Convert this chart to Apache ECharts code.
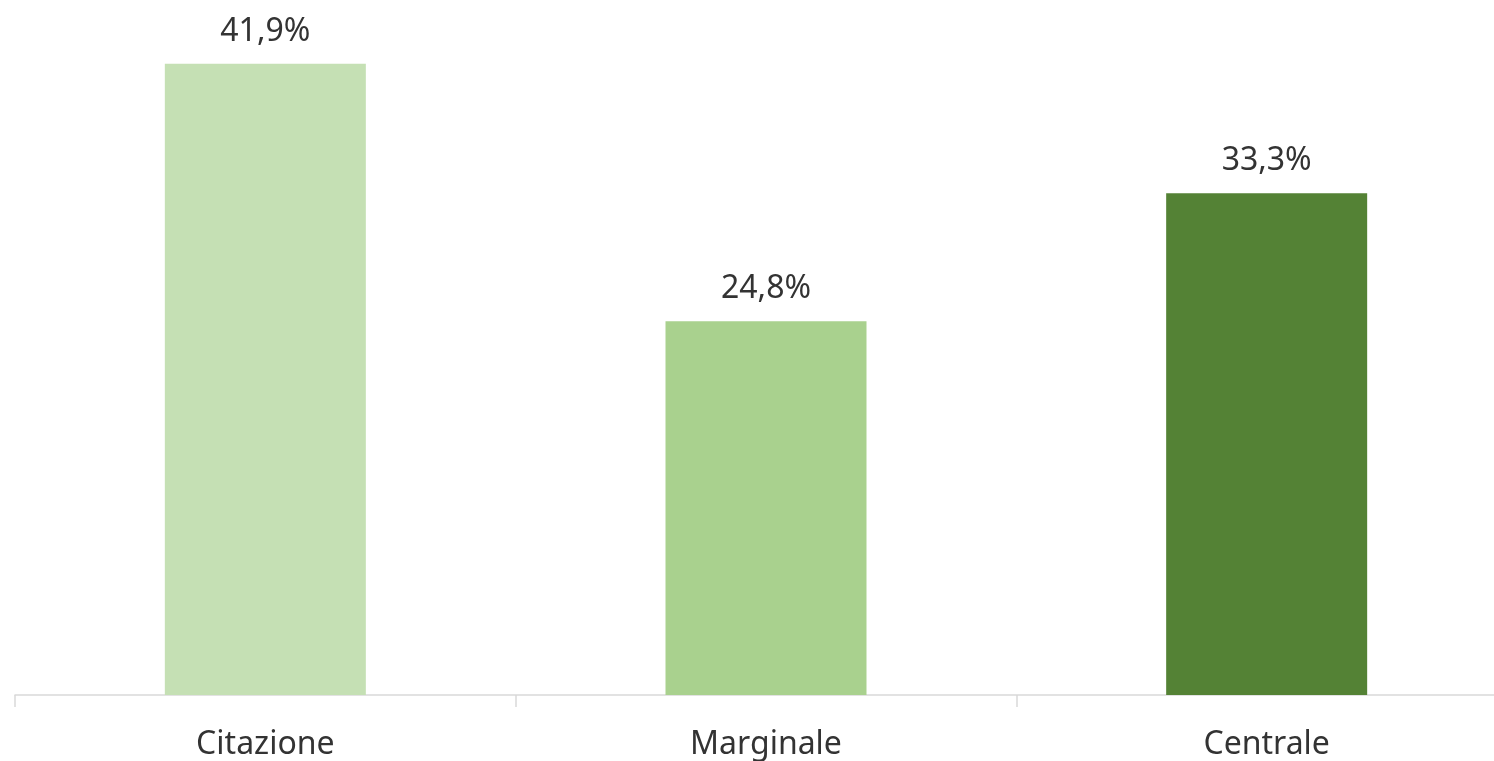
<!DOCTYPE html>
<html>
<head>
<meta charset="utf-8">
<script src="https://cdn.jsdelivr.net/npm/echarts@6/dist/echarts.min.js"></script>
<style>
    html, body { margin: 0; padding: 0; background: #fff; overflow: hidden; }
    #chart { width: 1517px; height: 761px; }
</style>
</head>
<body>
<div id="chart"></div>
<script>
// data
let categories = ['Citazione', 'Marginale', 'Centrale'];
let values = [41.9, 24.8, 33.3];
let barColors = ['#C5E0B4', '#A9D18E', '#548235'];

let myChart = echarts.init(document.getElementById('chart'));

let option = {
    animation: false,
    grid: {
        left: 15,
        right: 0,
        top: 17,
        bottom: 65
    },
    xAxis: {
        type: 'category',
        data: categories,
        axisLine: {lineStyle: {color: '#D9D9D9', width: 1.5}},
        axisTick: {show: true, length: 12, lineStyle: {color: '#D9D9D9', width: 1.5}},
        axisLabel: {
            color: '#333333',
            fontSize: 32,
            fontFamily: 'Noto Sans',
            margin: 34
        }
    },
    yAxis: {
        type: 'value',
        min: 0,
        max: 45,
        show: false,
        splitLine: {show: false}
    },
    series: [{
        type: 'bar',
        barWidth: 201,
        data: values.map(function (v, i) {
            return {value: v, itemStyle: {color: barColors[i]}};
        }),
        label: {
            show: true,
            position: 'top',
            distance: 16,
            color: '#333333',
            fontSize: 32,
            fontFamily: 'Noto Sans',
            formatter: function (p) {
                return p.value.toFixed(1).replace('.', ',') + '%';
            }
        }
    }]
};

myChart.setOption(option);
</script>
</body>
</html>
